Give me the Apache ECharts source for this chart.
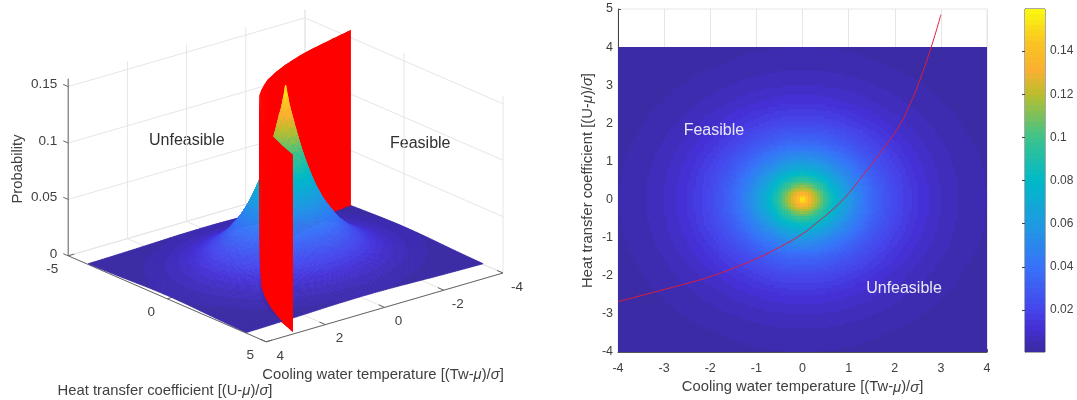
<!DOCTYPE html>
<html>
<head>
<meta charset="utf-8">
<style>html,body{margin:0;padding:0;background:#fff}#c{width:1077px;height:400px}</style>
<script src="https://cdn.jsdelivr.net/npm/echarts@6/dist/echarts.min.js"></script>
</head>
<body>
<div id="c"></div>
<script>
// ---- data ----
const gridNodes = [0, 0.125, 0.25, 0.5, 0.75, 1, 1.5, 2, 2.5, 3, 3.5, 4];
const densityQuadrant = [
  [.1590,.1403,.1238,.0964,.0751,.0585,.0355,.0215,.0131,.0079,.0048,.0029],
  [.1403,.1332,.1202,.0950,.0743,.0580,.0353,.0214,.0130,.0079,.0048,.0029],
  [.1238,.1202,.1116,.0909,.0721,.0567,.0348,.0212,.0129,.0078,.0048,.0029],
  [.0964,.0950,.0909,.0784,.0646,.0520,.0327,.0202,.0124,.0076,.0046,.0028],
  [.0751,.0743,.0721,.0646,.0550,.0456,.0297,.0188,.0117,.0072,.0044,.0027],
  [.0585,.0580,.0567,.0520,.0456,.0387,.0262,.0170,.0108,.0067,.0042,.0026],
  [.0355,.0353,.0348,.0327,.0297,.0262,.0191,.0131,.0086,.0056,.0035,.0022],
  [.0215,.0214,.0212,.0202,.0188,.0170,.0131,.0094,.0065,.0043,.0028,.0018],
  [.0131,.0130,.0129,.0124,.0117,.0108,.0086,.0065,.0046,.0032,.0022,.0014],
  [.0079,.0079,.0078,.0076,.0072,.0067,.0056,.0043,.0032,.0023,.0016,.0011],
  [.0048,.0048,.0048,.0046,.0044,.0042,.0035,.0028,.0022,.0016,.0011,.0008],
  [.0029,.0029,.0029,.0028,.0027,.0026,.0022,.0018,.0014,.0011,.0008,.0006]
];
const limitTw = [-4,-3.5,-3,-2.5,-2,-1.5,-1,-.5,0,.3,.6,.88,1.1,1.32,1.7,2.07,2.3,2.52,2.79,3];
const limitU  = [-2.68,-2.52,-2.36,-2.2,-2.02,-1.8,-1.55,-1.25,-.9,-.62,-.32,0,.31,.65,1.25,1.88,2.42,3.06,4,4.85];
const twTicks3d = [-4,-2,0,2,4];
const uTicks3d = [-5,0,5];
const zTicks3d = [0,0.05,0.1,0.15];
const zTop = 0.157;
const colorbarTicks = [0.02,0.04,0.06,0.08,0.1,0.12,0.14];
const colorMin = 0.0005, colorMax = 0.1595;
const parulaPos = [0,.07,.125,.25,.375,.5,.625,.75,.82,.9,1];
const parulaRGB = [[58,42,158],[68,48,212],[70,70,236],[55,115,250],[30,155,225],[0,185,200],[60,195,140],[185,190,45],[250,175,50],[250,195,35],[250,250,15]];
const FONT = '"Liberation Sans", Arial, sans-serif';
const INK = '#404040';
const NAME_SIZE = 14.8;

// ---- helpers ----
const axisNodes = gridNodes.slice(1).reverse().map(v => -v).concat(gridNodes);
const nodeIdx = i => Math.abs(i - (gridNodes.length - 1));
const zNode = (i, j) => densityQuadrant[nodeIdx(i)][nodeIdx(j)];
function levelColor(level) {
  const t = (level + .5) / 64;
  let k = 0;
  while (k < parulaPos.length - 2 && t > parulaPos[k + 1]) k++;
  const f = (t - parulaPos[k]) / (parulaPos[k + 1] - parulaPos[k]);
  const c = parulaRGB[k].map((v, n) => Math.round(v + (parulaRGB[k + 1][n] - v) * f));
  return 'rgb(' + c.join(',') + ')';
}
const palette = Array.from({length: 64}, (_, i) => levelColor(i));
const colorOf = z => palette[Math.max(0, Math.min(63, Math.floor((z - colorMin) / (colorMax - colorMin) * 64)))];

// shaded sub-cells of the value grid (like shading interp)
const shaded = [];
for (let i = 0; i < axisNodes.length - 1; i++) {
  for (let j = 0; j < axisNodes.length - 1; j++) {
    const x0 = axisNodes[i], x1 = axisNodes[i + 1], y0 = axisNodes[j], y1 = axisNodes[j + 1];
    const n = Math.ceil((x1 - x0) / 0.0625), m = Math.ceil((y1 - y0) / 0.0625);
    const a = zNode(i, j), b = zNode(i + 1, j), c = zNode(i, j + 1), d = zNode(i + 1, j + 1);
    const at = (s, t) => a * (1 - s) * (1 - t) + b * s * (1 - t) + c * (1 - s) * t + d * s * t;
    for (let p = 0; p < n; p++) for (let q = 0; q < m; q++) {
      const s0 = p / n, s1 = (p + 1) / n, t0 = q / m, t1 = (q + 1) / m;
      shaded.push({
        x0: x0 + (x1 - x0) * s0, x1: x0 + (x1 - x0) * s1,
        y0: y0 + (y1 - y0) * t0, y1: y0 + (y1 - y0) * t1,
        z00: at(s0, t0), z10: at(s1, t0), z01: at(s0, t1), z11: at(s1, t1),
        z: at((s0 + s1) / 2, (t0 + t1) / 2)
      });
    }
  }
}

// view of the 3-D scene, expressed in units of the hidden view axes
const view = (tw, u, z) => [-29.6 * tw + 19.8 * u, 1128 * z - 8.6 * (tw + u)];

// faces of the 3-D scene, sorted far to near
const faces = shaded.map(c => ({
  pts: [[c.x0, c.y0, c.z00], [c.x1, c.y0, c.z10], [c.x1, c.y1, c.z11], [c.x0, c.y1, c.z01]],
  color: colorOf(c.z), lw: 0.6, depth: (c.x0 + c.x1 + c.y0 + c.y1) / 2
}));
// the limit wall: a smooth run of short panels, each overlapping the next
const wallPts = [];
for (let k = 0; k < limitTw.length - 1; k++) {
  const dTw = limitTw[k + 1] - limitTw[k], dU = limitU[k + 1] - limitU[k];
  const n = Math.max(1, Math.ceil(Math.hypot(dTw, dU) / 0.1));
  for (let s = 0; s < n; s++) wallPts.push([limitTw[k] + dTw * s / n, limitU[k] + dU * s / n]);
}
wallPts.push([limitTw[limitTw.length - 1], limitU[limitU.length - 1]]);
for (let k = 0; k < wallPts.length - 1; k++) {
  const a = wallPts[k], b = wallPts[k + 1], c = wallPts[Math.min(k + 2, wallPts.length - 1)];
  faces.push({
    pts: [[a[0], a[1], 0], [b[0], b[1], 0], [c[0], c[1], 0], [c[0], c[1], zTop], [b[0], b[1], zTop], [a[0], a[1], zTop]],
    color: '#ff0000', lw: 0, depth: (a[0] + a[1] + b[0] + b[1]) / 2 + 0.02
  });
}
faces.sort((p, q) => p.depth - q.depth);

// frame of the 3-D box
const frame = [];
const addLine = (a, b, color) => frame.push({a, b, color});
const GRIDC = '#e6e6e6', AXC = '#666666';
twTicks3d.forEach(t => {
  addLine([t, -5, 0], [t, 5, 0], GRIDC);
  addLine([t, -5, 0], [t, -5, zTop], GRIDC);
});
uTicks3d.forEach(u => {
  addLine([-4, u, 0], [4, u, 0], GRIDC);
  addLine([-4, u, 0], [-4, u, zTop], GRIDC);
});
zTicks3d.forEach(z => {
  addLine([4, -5, z], [-4, -5, z], GRIDC);
  addLine([-4, -5, z], [-4, 5, z], GRIDC);
});
addLine([4, -5, 0], [4, -5, zTop], AXC);
addLine([4, -5, 0], [4, 5, 0], AXC);
addLine([4, 5, 0], [-4, 5, 0], AXC);
zTicks3d.forEach(z => addLine([4, -5, z], [4, -5.25, z], AXC));
uTicks3d.forEach(u => addLine([4, u, 0], [3.8, u, 0], AXC));
twTicks3d.forEach(t => addLine([t, 5, 0], [t, 4.7, 0], AXC));

// tick labels of the 3-D box
const labels3d = [];
zTicks3d.forEach(z => labels3d.push({p: [4, -5, z], dx: -11, dy: -2, text: String(z), align: 'right'}));
uTicks3d.forEach(u => labels3d.push({p: [4, u, 0], dx: -16, dy: 13, text: String(u), align: 'center'}));
twTicks3d.forEach(t => labels3d.push({p: [t, 5, 0], dx: 14, dy: 14, text: String(t), align: 'center'}));

const rich = (size) => ({
  a: {fontSize: size, fontFamily: FONT, fill: INK, color: INK},
  i: {fontSize: size, fontFamily: FONT, fontStyle: 'italic', fill: INK, color: INK}
});
const coolName = '{a|Cooling water temperature [(Tw-}{i|\u03bc}{a|)/}{i|\u03c3}{a|]}';
const heatName = '{a|Heat transfer coefficient [(U-}{i|\u03bc}{a|)/}{i|\u03c3}{a|]}';

const chart = echarts.init(document.getElementById('c'), null, {renderer: 'canvas'});
const plainAxis = (extra) => Object.assign({type: 'value', show: false}, extra);

chart.setOption({
  animation: false,
  backgroundColor: '#fff',
  grid: [
    {left: 0, top: 0, width: 1077, height: 400, show: false, outerBoundsMode: 'none'},
    {left: 618, top: 9, width: 369, height: 343, show: true, borderColor: '#e6e6e6', borderWidth: 1, backgroundColor: '#fff', outerBoundsMode: 'none'},
    {left: 1025, top: 9, width: 20, height: 343, show: true, borderColor: '#555', borderWidth: 1, outerBoundsMode: 'none'}
  ],
  xAxis: [
    plainAxis({gridIndex: 0, min: -285.6, max: 791.4}),
    {type: 'value', gridIndex: 1, min: -4, max: 4, interval: 1,
      name: coolName, nameLocation: 'middle', nameGap: 27, nameTextStyle: {rich: rich(NAME_SIZE)},
      axisLine: {show: true, onZero: false, lineStyle: {color: '#555'}},
      axisTick: {inside: true, length: 3, lineStyle: {color: '#555'}},
      axisLabel: {color: INK, fontSize: 12.5, fontFamily: FONT, margin: 10},
      splitLine: {show: true, lineStyle: {color: '#e6e6e6'}}},
    plainAxis({gridIndex: 2, min: 0, max: 1})
  ],
  yAxis: [
    plainAxis({gridIndex: 0, min: -135.6, max: 264.4}),
    {type: 'value', gridIndex: 1, min: -4, max: 5, interval: 1,
      name: heatName, nameLocation: 'middle', nameGap: 23, nameRotate: 90, nameTextStyle: {rich: rich(NAME_SIZE)},
      axisLine: {show: true, onZero: false, lineStyle: {color: '#444'}},
      axisTick: {inside: true, length: 3, lineStyle: {color: '#555'}},
      axisLabel: {color: INK, fontSize: 12.5, fontFamily: FONT, margin: 5, padding: [5, 0, 0, 0]},
      splitLine: {show: false}},
    {type: 'value', gridIndex: 2, min: colorMin, max: colorMax, position: 'right',
      axisLine: {show: true, lineStyle: {color: '#555'}},
      axisTick: {inside: true, length: 3, customValues: colorbarTicks, lineStyle: {color: '#444'}},
      axisLabel: {color: INK, fontSize: 12, fontFamily: FONT, margin: 5, customValues: colorbarTicks},
      splitLine: {show: false}}
  ],
  graphic: [
    {type: 'text', silent: true, left: 149, top: 133,
      style: {text: 'Unfeasible', fontSize: 16, fontFamily: FONT, fill: '#303030'}},
    {type: 'text', silent: true, left: 390, top: 136,
      style: {text: 'Feasible', fontSize: 16, fontFamily: FONT, fill: '#303030'}},
    {type: 'text', silent: true, x: 18, y: 169, rotation: Math.PI / 2, originX: 0, originY: 0,
      style: {text: 'Probability', fontSize: NAME_SIZE, fontFamily: FONT, fill: INK, align: 'center', verticalAlign: 'middle'}},
    {type: 'text', silent: true, x: 383, y: 375,
      style: {text: coolName, rich: rich(NAME_SIZE), align: 'center', verticalAlign: 'middle'}},
    {type: 'text', silent: true, x: 165, y: 391,
      style: {text: heatName, rich: rich(NAME_SIZE), align: 'center', verticalAlign: 'middle'}}
  ],
  series: [
    {type: 'custom', name: 'box', xAxisIndex: 0, yAxisIndex: 0, silent: true, z: 1, clip: false, progressive: 0,
      data: frame.map(f => view(f.a[0], f.a[1], f.a[2])),
      renderItem(params, api) {
        const f = frame[params.dataIndex];
        const a = api.coord(view(f.a[0], f.a[1], f.a[2])), b = api.coord(view(f.b[0], f.b[1], f.b[2]));
        return {type: 'line', shape: {x1: a[0], y1: a[1], x2: b[0], y2: b[1]}, style: {stroke: f.color, lineWidth: 1, fill: null}};
      }},
    {type: 'custom', name: 'surface and limit wall', xAxisIndex: 0, yAxisIndex: 0, silent: true, z: 2, clip: false, progressive: 0,
      data: faces.map(f => view(f.pts[0][0], f.pts[0][1], f.pts[0][2])),
      renderItem(params, api) {
        const f = faces[params.dataIndex];
        return {type: 'polygon', shape: {points: f.pts.map(p => api.coord(view(p[0], p[1], p[2])))},
          style: f.lw ? {fill: f.color, stroke: f.color, lineWidth: f.lw} : {fill: f.color}};
      }},
    {type: 'custom', name: 'box labels', xAxisIndex: 0, yAxisIndex: 0, silent: true, z: 3, clip: false,
      data: labels3d.map(l => view(l.p[0], l.p[1], l.p[2])),
      renderItem(params, api) {
        const l = labels3d[params.dataIndex];
        const c = api.coord(view(l.p[0], l.p[1], l.p[2]));
        return {type: 'text', style: {text: l.text, x: c[0] + l.dx, y: c[1] + l.dy, align: l.align, verticalAlign: 'middle',
          fontSize: 13.5, fontFamily: FONT, fill: INK}};
      }},
    {type: 'custom', name: 'density', xAxisIndex: 1, yAxisIndex: 1, silent: true, z: 2, progressive: 0,
      encode: {x: 0, y: 2},
      data: shaded.map(c => [c.x0, c.x1, c.y0, c.y1, c.z]),
      renderItem(params, api) {
        const a = api.coord([api.value(0), api.value(3)]), b = api.coord([api.value(1), api.value(2)]);
        const x = Math.round(a[0]), y = Math.round(a[1]);
        return {type: 'rect', shape: {x, y, width: Math.round(b[0]) - x, height: Math.round(b[1]) - y},
          style: {fill: colorOf(api.value(4))}};
      }},
    {type: 'line', name: 'limit state', xAxisIndex: 1, yAxisIndex: 1, z: 4, silent: true, symbol: 'none', smooth: 0.5,
      data: limitTw.map((t, i) => [t, limitU[i]]),
      lineStyle: {color: '#dc1e3c', width: 1}},
    {type: 'custom', name: 'regions', xAxisIndex: 1, yAxisIndex: 1, silent: true, z: 5,
      data: [[-1.92, 1.8, 'Feasible'], [2.2, -2.33, 'Unfeasible']],
      renderItem(params, api) {
        const c = api.coord([api.value(0), api.value(1)]);
        return {type: 'text', style: {text: ['Feasible', 'Unfeasible'][params.dataIndex], x: c[0], y: c[1], align: 'center', verticalAlign: 'middle',
          fontSize: 16, fontFamily: FONT, fill: '#e8e8f5'}};
      }},
    {type: 'custom', name: 'colorbar', xAxisIndex: 2, yAxisIndex: 2, silent: true, z: 2, progressive: 0,
      encode: {x: 0, y: 1},
      data: palette.map((_, i) => [0, colorMin + (colorMax - colorMin) * i / 64, colorMin + (colorMax - colorMin) * (i + 1) / 64]),
      renderItem(params, api) {
        const a = api.coord([0, api.value(2)]), b = api.coord([1, api.value(1)]);
        const y = Math.round(a[1]);
        return {type: 'rect', shape: {x: a[0], y, width: b[0] - a[0], height: Math.round(b[1]) - y},
          style: {fill: palette[params.dataIndex]}};
      }}
  ]
});
</script>
</body>
</html>
